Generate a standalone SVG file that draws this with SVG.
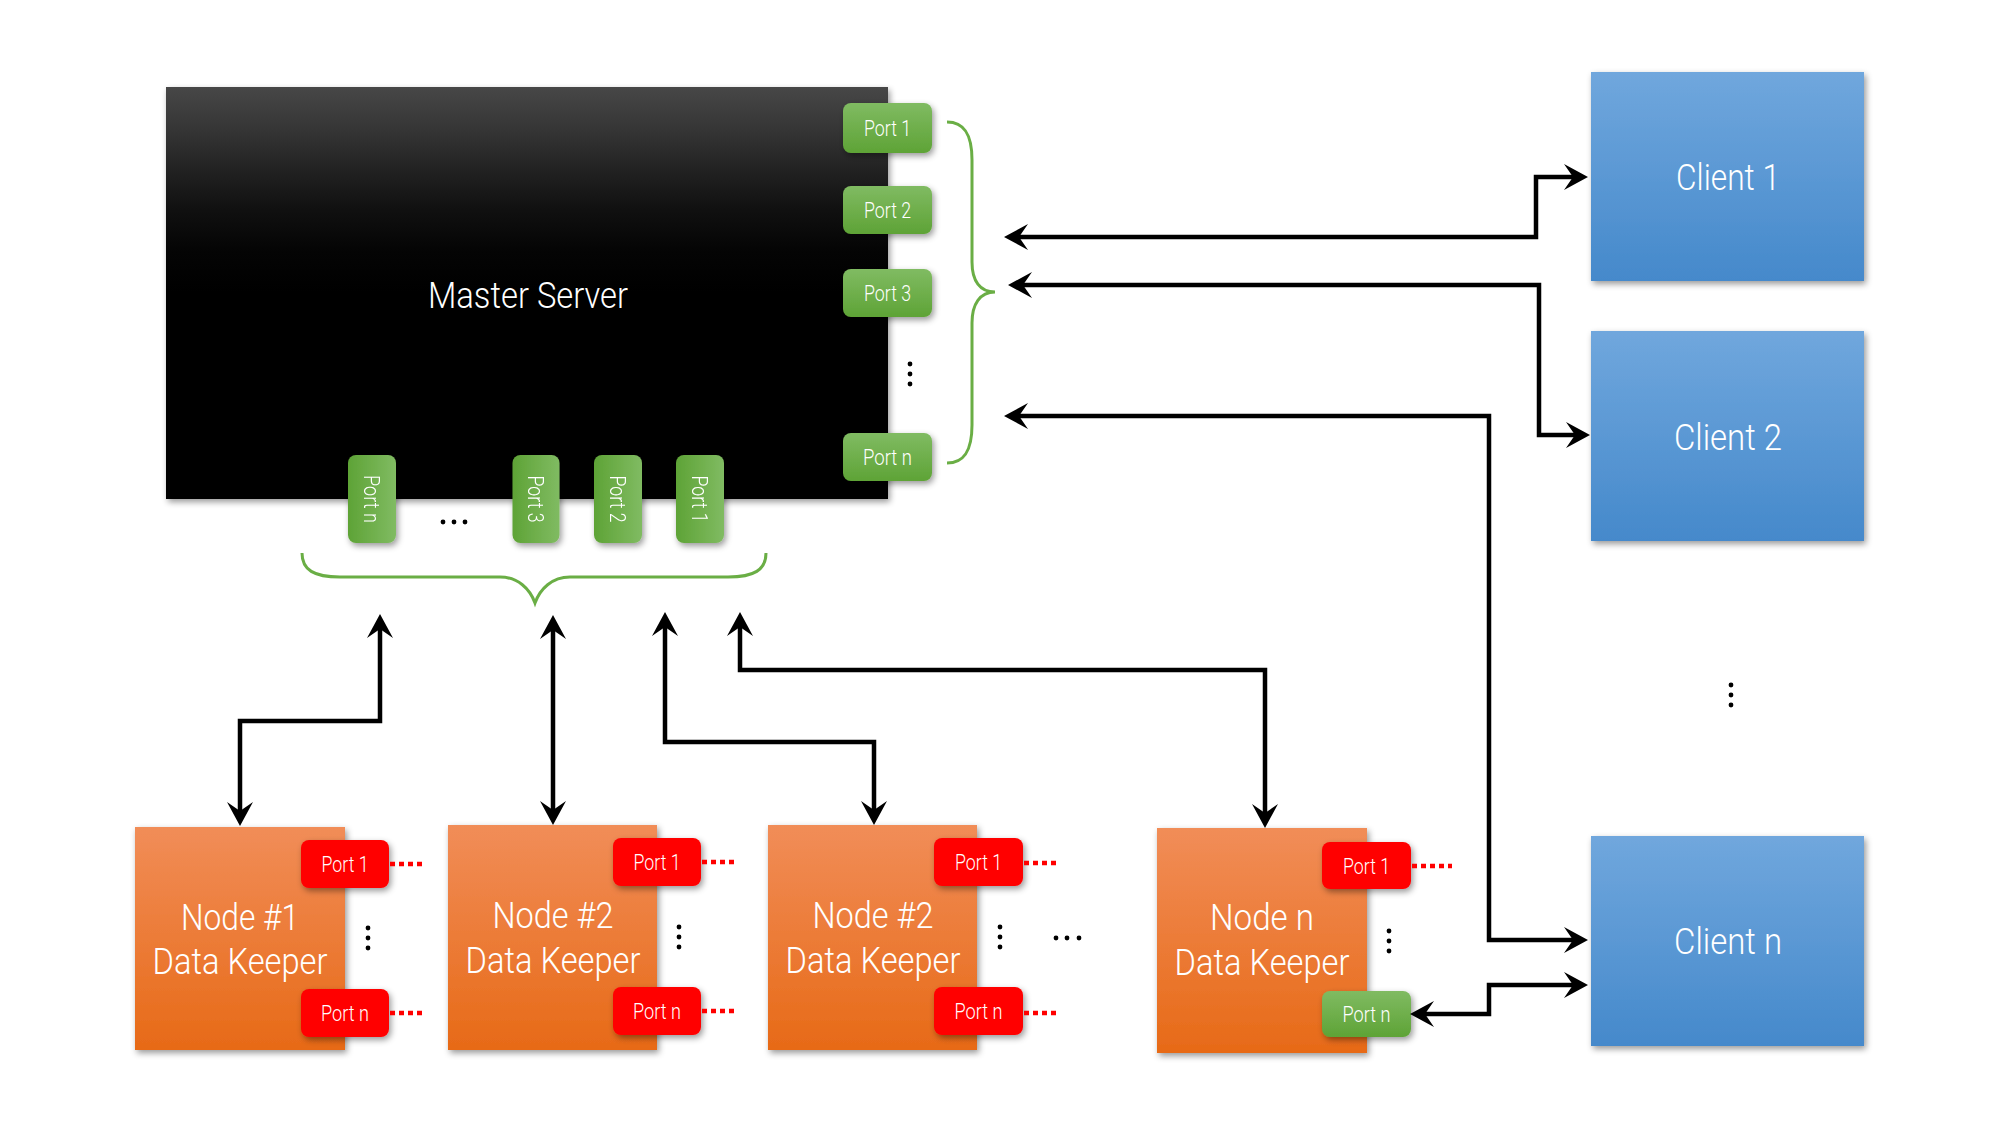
<svg xmlns="http://www.w3.org/2000/svg" width="2000" height="1125" viewBox="0 0 2000 1125">
<defs>
<linearGradient id="gMaster" x1="0" y1="0" x2="0" y2="1">
<stop offset="0" stop-color="#474747"/><stop offset="0.1" stop-color="#363636"/><stop offset="0.2" stop-color="#222"/><stop offset="0.3" stop-color="#101010"/><stop offset="0.4" stop-color="#040404"/><stop offset="0.5" stop-color="#000"/><stop offset="1" stop-color="#000"/>
</linearGradient>
<linearGradient id="gGreen" x1="0" y1="0" x2="0" y2="1">
<stop offset="0" stop-color="#80bb62"/><stop offset="1" stop-color="#5ea336"/>
</linearGradient>
<linearGradient id="gOrange" x1="0" y1="0" x2="0" y2="1">
<stop offset="0" stop-color="#f18d58"/><stop offset="1" stop-color="#e76a17"/>
</linearGradient>
<linearGradient id="gBlue" x1="0" y1="0" x2="0" y2="1">
<stop offset="0" stop-color="#70a7dd"/><stop offset="1" stop-color="#4589cb"/>
</linearGradient>
<filter id="sh" x="-20%" y="-20%" width="140%" height="140%">
<feDropShadow dx="2" dy="3" stdDeviation="3" flood-color="#000" flood-opacity="0.4"/>
</filter>
<filter id="blur" x="-10%" y="-10%" width="120%" height="120%">
<feGaussianBlur stdDeviation="3"/>
</filter>
<marker id="arr" viewBox="-36 -14 38 28" refX="-12" refY="0" markerWidth="38" markerHeight="28" markerUnits="userSpaceOnUse" orient="auto-start-reverse">
<path d="M0,0 L-24,-13 L-15,0 L-24,13 Z" fill="#000"/>
</marker>
<style>
.t{font-family:Roboto,"Open Sans","Liberation Sans",sans-serif;font-weight:300;fill:#fff;text-anchor:middle}
.big{font-size:37px}
.pt{font-size:22px}
.gp{fill:url(#gGreen)}
.rp{fill:#ff0000}
.conn{fill:none;stroke:#000;stroke-width:4.5;marker-start:url(#arr);marker-end:url(#arr)}
.dot{fill:#000}
.rd{fill:none;stroke:#ff0000;stroke-width:4.5;stroke-dasharray:5 4}
.brace{fill:none;stroke:#6aae45;stroke-width:3}
</style>
</defs>
<rect width="2000" height="1125" fill="#fff"/>

<g id="master">
<rect x="168" y="90" width="722" height="412" fill="#000" opacity="0.4" filter="url(#blur)"/>
<rect x="166" y="87" width="722" height="412" fill="url(#gMaster)"/>
<text class="t big" x="528" y="308" textLength="200" lengthAdjust="spacingAndGlyphs">Master Server</text>
</g>

<g id="master-ports-right">
<g filter="url(#sh)">
<rect class="gp" x="843" y="103" width="89" height="50" rx="8"/>
<rect class="gp" x="843" y="186" width="89" height="48" rx="8"/>
<rect class="gp" x="843" y="269" width="89" height="48" rx="8"/>
<rect class="gp" x="843" y="433" width="89" height="48" rx="8"/>
</g>
<text class="t pt" x="887.5" y="136" textLength="47" lengthAdjust="spacingAndGlyphs">Port 1</text>
<text class="t pt" x="887.5" y="218" textLength="47" lengthAdjust="spacingAndGlyphs">Port 2</text>
<text class="t pt" x="887.5" y="301" textLength="47" lengthAdjust="spacingAndGlyphs">Port 3</text>
<text class="t pt" x="887.5" y="465" textLength="49" lengthAdjust="spacingAndGlyphs">Port n</text>
<circle class="dot" cx="910" cy="364" r="2.4"/><circle class="dot" cx="910" cy="374" r="2.4"/><circle class="dot" cx="910" cy="384" r="2.4"/>
<path class="brace" d="M947,122 C964,122 972,134 972,160 L972,262 C972,281 980,292 995,292 C980,292 972,304 972,323 L972,425 C972,451 964,463 947,463"/>
</g>

<g id="master-ports-bottom">
<g filter="url(#sh)">
<g transform="rotate(90 372 499)"><rect class="gp" x="328" y="475" width="88" height="48" rx="8"/><text class="t pt" x="372" y="507" textLength="48" lengthAdjust="spacingAndGlyphs">Port n</text></g>
</g>
<g filter="url(#sh)">
<g transform="rotate(90 535.5 499)"><rect class="gp" x="491.5" y="475" width="88" height="47" rx="8"/><text class="t pt" x="535.5" y="507" textLength="47" lengthAdjust="spacingAndGlyphs">Port 3</text></g>
</g>
<g filter="url(#sh)">
<g transform="rotate(90 618 499)"><rect class="gp" x="574" y="475" width="88" height="48" rx="8"/><text class="t pt" x="618" y="507" textLength="47" lengthAdjust="spacingAndGlyphs">Port 2</text></g>
</g>
<g filter="url(#sh)">
<g transform="rotate(90 700 499)"><rect class="gp" x="656" y="475" width="88" height="48" rx="8"/><text class="t pt" x="700" y="507" textLength="47" lengthAdjust="spacingAndGlyphs">Port 1</text></g>
</g>
<circle class="dot" cx="443" cy="522" r="2.4"/><circle class="dot" cx="454" cy="522" r="2.4"/><circle class="dot" cx="465" cy="522" r="2.4"/>
<path class="brace" d="M302,553 C302,570 314,577 340,577 L500,577 C518,577 530,589 535,603 C540,589 552,577 570,577 L728,577 C754,577 766,570 766,553"/>
</g>

<g id="client1">
<rect x="1591" y="72" width="273" height="209" fill="url(#gBlue)" filter="url(#sh)"/>
<text class="t big" x="1728" y="190" textLength="104" lengthAdjust="spacingAndGlyphs">Client 1</text>
</g>
<g id="client2">
<rect x="1591" y="331" width="273" height="210" fill="url(#gBlue)" filter="url(#sh)"/>
<text class="t big" x="1728" y="450" textLength="108" lengthAdjust="spacingAndGlyphs">Client 2</text>
</g>
<g id="clientn">
<rect x="1591" y="836" width="273" height="210" fill="url(#gBlue)" filter="url(#sh)"/>
<text class="t big" x="1728" y="954" textLength="108" lengthAdjust="spacingAndGlyphs">Client n</text>
</g>
<g id="client-dots">
<circle class="dot" cx="1731" cy="685" r="2.4"/><circle class="dot" cx="1731" cy="695" r="2.4"/><circle class="dot" cx="1731" cy="705" r="2.4"/>
</g>

<g id="node1">
<rect x="135" y="827" width="210" height="223" fill="url(#gOrange)" filter="url(#sh)"/>
<text class="t big" x="240" y="930" textLength="118" lengthAdjust="spacingAndGlyphs">Node #1</text>
<text class="t big" x="240" y="974" textLength="175" lengthAdjust="spacingAndGlyphs">Data Keeper</text>
<g filter="url(#sh)">
<rect class="rp" x="301" y="840" width="88" height="48" rx="8"/>
<rect class="rp" x="301" y="989" width="88" height="48" rx="8"/>
</g>
<text class="t pt" x="345" y="872" textLength="47" lengthAdjust="spacingAndGlyphs">Port 1</text>
<text class="t pt" x="345" y="1021" textLength="48" lengthAdjust="spacingAndGlyphs">Port n</text>
<path class="rd" d="M390,864 H426 M390,1013 H426"/>
<circle class="dot" cx="368" cy="928" r="2.4"/><circle class="dot" cx="368" cy="938" r="2.4"/><circle class="dot" cx="368" cy="948" r="2.4"/>
</g>

<g id="node2">
<rect x="448" y="825" width="209" height="225" fill="url(#gOrange)" filter="url(#sh)"/>
<text class="t big" x="553" y="928" textLength="121" lengthAdjust="spacingAndGlyphs">Node #2</text>
<text class="t big" x="553" y="973" textLength="175" lengthAdjust="spacingAndGlyphs">Data Keeper</text>
<g filter="url(#sh)">
<rect class="rp" x="613" y="838" width="88" height="48" rx="8"/>
<rect class="rp" x="613" y="987" width="88" height="48" rx="8"/>
</g>
<text class="t pt" x="657" y="870" textLength="47" lengthAdjust="spacingAndGlyphs">Port 1</text>
<text class="t pt" x="657" y="1019" textLength="48" lengthAdjust="spacingAndGlyphs">Port n</text>
<path class="rd" d="M702,862 H738 M702,1011 H738"/>
<circle class="dot" cx="679" cy="927" r="2.4"/><circle class="dot" cx="679" cy="937" r="2.4"/><circle class="dot" cx="679" cy="947" r="2.4"/>
</g>

<g id="node3">
<rect x="768" y="825" width="209" height="225" fill="url(#gOrange)" filter="url(#sh)"/>
<text class="t big" x="873" y="928" textLength="121" lengthAdjust="spacingAndGlyphs">Node #2</text>
<text class="t big" x="873" y="973" textLength="175" lengthAdjust="spacingAndGlyphs">Data Keeper</text>
<g filter="url(#sh)">
<rect class="rp" x="934" y="838" width="89" height="48" rx="8"/>
<rect class="rp" x="934" y="987" width="89" height="48" rx="8"/>
</g>
<text class="t pt" x="978.5" y="870" textLength="47" lengthAdjust="spacingAndGlyphs">Port 1</text>
<text class="t pt" x="978.5" y="1019" textLength="48" lengthAdjust="spacingAndGlyphs">Port n</text>
<path class="rd" d="M1024,863 H1060 M1024,1013 H1060"/>
<circle class="dot" cx="1000" cy="927" r="2.4"/><circle class="dot" cx="1000" cy="937" r="2.4"/><circle class="dot" cx="1000" cy="947" r="2.4"/>
</g>
<g id="node-dots">
<circle class="dot" cx="1056" cy="938" r="2.4"/><circle class="dot" cx="1067" cy="938" r="2.4"/><circle class="dot" cx="1079" cy="938" r="2.4"/>
</g>

<g id="noden">
<rect x="1157" y="828" width="210" height="225" fill="url(#gOrange)" filter="url(#sh)"/>
<text class="t big" x="1262" y="930" textLength="104" lengthAdjust="spacingAndGlyphs">Node n</text>
<text class="t big" x="1262" y="975" textLength="175" lengthAdjust="spacingAndGlyphs">Data Keeper</text>
<g filter="url(#sh)">
<rect class="rp" x="1322" y="842" width="89" height="47" rx="8"/>
<rect class="gp" x="1322" y="991" width="89" height="46" rx="8"/>
</g>
<text class="t pt" x="1366.5" y="874" textLength="47" lengthAdjust="spacingAndGlyphs">Port 1</text>
<text class="t pt" x="1366.5" y="1022" textLength="48" lengthAdjust="spacingAndGlyphs">Port n</text>
<path class="rd" d="M1412,866 H1452"/>
<circle class="dot" cx="1389" cy="931" r="2.4"/><circle class="dot" cx="1389" cy="941" r="2.4"/><circle class="dot" cx="1389" cy="951" r="2.4"/>
</g>

<g id="connectors">
<path class="conn" d="M1016,237 L1536,237 L1536,177 L1576,177"/>
<path class="conn" d="M1020,285 L1539,285 L1539,435 L1578,435"/>
<path class="conn" d="M1016,416 L1489,416 L1489,940 L1576,940"/>
<path class="conn" d="M1422,1014 L1489,1014 L1489,985 L1576,985"/>
<path class="conn" d="M240,814 L240,721 L380,721 L380,626"/>
<path class="conn" d="M553,813 L553,627"/>
<path class="conn" d="M874,813 L874,742 L665,742 L665,624"/>
<path class="conn" d="M1265,816 L1265,670 L740,670 L740,624"/>
</g>
</svg>
